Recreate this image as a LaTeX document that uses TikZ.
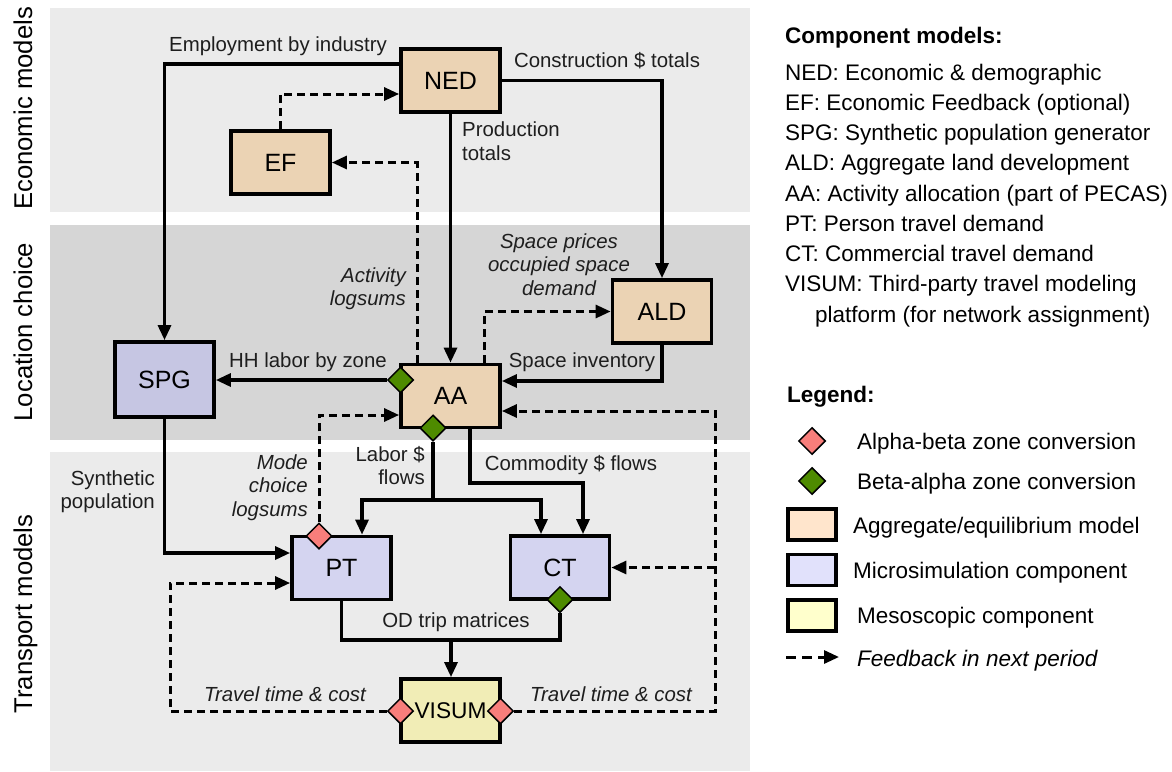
\documentclass[tikz,border=0pt]{standalone}
\usepackage{fontspec}
\setmainfont{Liberation Sans}
\usetikzlibrary{arrows.meta,shapes.geometric,calc}
\definecolor{bandA}{HTML}{EBEBEB}
\definecolor{bandB}{HTML}{D6D6D6}
\definecolor{aggcol}{HTML}{EBD3B4}
\definecolor{spgcol}{HTML}{C6C6E3}
\definecolor{microcol}{HTML}{D4D4F0}
\definecolor{mesocol}{HTML}{F1EDB6}
\definecolor{lgagg}{HTML}{FFE5CC}
\definecolor{lgmic}{HTML}{E1E1FB}
\definecolor{lgmes}{HTML}{FFFFCC}
\definecolor{dred}{HTML}{F87E7B}
\definecolor{dgreen}{HTML}{4E8B00}
\definecolor{txt}{HTML}{1E1E1E}
\begin{document}
\begin{tikzpicture}[x=1pt,y=-1pt,
  side/.style={rotate=90,anchor=base,font=\fontsize{25.7}{28}\selectfont,inner sep=0pt},
  box/.style={draw,line width=3.8pt,minimum width=99pt,minimum height=63pt,inner sep=0pt,font=\fontsize{25}{28}\selectfont},
  diam/.style={diamond,draw,line width=1.5pt,minimum width=26pt,minimum height=26pt,inner sep=0pt},
  conn/.style={line width=3.2pt,-{Triangle[length=15pt,width=13pt]}},
  plain/.style={line width=3.2pt},
  fb/.style={conn,line width=3pt,dash pattern=on 8pt off 5pt},
  lab/.style={inner sep=0pt,text=txt,font=\fontsize{20.4}{23.5}\selectfont},
  ilab/.style={inner sep=0pt,text=txt,font=\fontsize{20.4}{23.5}\selectfont\itshape},
  lg/.style={anchor=base west,inner sep=0pt,font=\fontsize{22.5}{26}\selectfont},
  lgh/.style={anchor=base west,inner sep=0pt,font=\fontsize{22.5}{26}\selectfont\bfseries},
  lgbox/.style={draw,line width=3.6pt,minimum width=48pt,minimum height=31pt,inner sep=0pt}
]
\useasboundingbox (0,0) rectangle (1172,771);
% bands
\fill[bandA] (50,8) rectangle (750,212);
\fill[bandB] (50,225) rectangle (750,440);
\fill[bandA] (50,452) rectangle (750,771);
\node[side] (sEco) at (32,108.5) {Economic models};
\node[side] (sLoc) at (32,332) {Location choice};
\node[side] (sTra) at (32,614) {Transport models};

% boxes
\node[box,fill=aggcol] (NED) at (450.5,80.5) {NED};
\node[box,fill=aggcol] (EF) at (280.5,162.5) {EF};
\node[box,fill=aggcol] (ALD) at (662,311.5) {ALD};
\node[box,fill=aggcol] (AA) at (450.5,396) {AA};
\node[box,fill=spgcol,minimum height=75pt] (SPG) at (164.5,379.5) {SPG};
\node[box,fill=microcol] (PT) at (341.5,568) {PT};
\node[box,fill=microcol] (CT) at (560,567.5) {CT};
\node[box,fill=mesocol,font=\fontsize{22.7}{26}\selectfont] (VISUM) at (450.5,710.5) {VISUM};

% diamonds
\node[diam,fill=dgreen] (gAAl) at (400.5,380) {};
\node[diam,fill=dgreen] (gAAb) at (433,428) {};
\node[diam,fill=dred] (rPT) at (319,536) {};
\node[diam,fill=dgreen] (gCT) at (560,599.5) {};
\node[diam,fill=dred] (rVl) at (400.5,711) {};
\node[diam,fill=dred] (rVr) at (500.5,711) {};

% helper coordinates
\coordinate (split) at (433,500);
\coordinate (cm) at (583,483);
\coordinate (od) at (451,640);
\coordinate (fbL) at (170,583);
\coordinate (fbR) at (715,411);
\coordinate (fbC) at (715,567.5);

% connectors
\draw[conn] ([yshift=16.5pt]NED.west) -| (SPG.north);
\draw[fb] (EF.north) |- ([yshift=-13.5pt]NED.west);
\draw[fb] ([xshift=-33.5pt]AA.north) |- (EF.east);
\draw[conn] (NED.south) -- (AA.north);
\draw[conn] (NED.east) -| (ALD.north);
\draw[fb] ([xshift=33.5pt]AA.north) |- (ALD.west);
\draw[conn] (ALD.south) |- ([yshift=15pt]AA.east);
\draw[conn] (gAAl.west) -- (gAAl.west -| SPG.east);
\draw[fb] (rPT.north) |- ([yshift=-19pt]AA.west);
\draw[plain] (gAAb.south) -- (split);
\draw[conn] (split) -| ([xshift=20.5pt]PT.north);
\draw[conn] (split) -| ([xshift=-19pt]CT.north);
\draw[conn] ([xshift=19.5pt]AA.south) |- (cm) -- ([xshift=23pt]CT.north);
\draw[conn] (SPG.south) |- ([yshift=15pt]PT.west);
\draw[plain] (PT.south) |- (od) -| (gCT.south);
\draw[conn] (od) -- (od |- VISUM.north);
\draw[fb] (rVl.west) -| (fbL) -- ([yshift=-15pt]PT.west);
\draw[fb] (rVr.east) -| (fbR) -- ([yshift=-15pt]AA.east);
\draw[fb] (fbC) -- (CT.east);

% edge labels
\node[lab] (lEmp) at (278,46) {Employment by industry};
\node[lab] (lCon) at (607,61) {Construction \$ totals};
\node[lab,align=left,anchor=north west] (lProd) at (462,122) {Production\\totals};
\node[ilab,align=right,anchor=east] (lAct) at (406,288.5) {Activity\\logsums};
\node[ilab,align=center] (lSpace) at (559,264.5) {Space prices\\occupied space\\demand};
\node[lab] (lInv) at (582,362) {Space inventory};
\node[lab] (lHH) at (308,362) {HH labor by zone};
\node[lab,align=right,anchor=east] (lLab) at (425,465.5) {Labor \$\\flows};
\node[lab] (lCom) at (571,465) {Commodity \$ flows};
\node[lab,align=right,anchor=east] (lSyn) at (155,491.5) {Synthetic\\population};
\node[ilab,align=right,anchor=east] (lMode) at (308,487.5) {Mode\\choice\\logsums};
\node[lab] (lOD) at (456,622) {OD trip matrices};
\node[ilab] (lTTl) at (285,694) {Travel time \& cost};
\node[ilab] (lTTr) at (611,694) {Travel time \& cost};

% component models
\node[lgh] (cmh) at (785,43) {Component models:};
\node[lg] (c1) at (785,80) {NED: Economic \& demographic};
\node[lg] (c2) at (785,110.25) {EF: Economic Feedback (optional)};
\node[lg] (c3) at (785,140.5) {SPG: Synthetic population generator};
\node[lg] (c4) at (785,170.75) {ALD: Aggregate land development};
\node[lg] (c5) at (785,201) {AA: Activity allocation (part of PECAS)};
\node[lg] (c6) at (785,231.25) {PT: Person travel demand};
\node[lg] (c7) at (785,261.5) {CT: Commercial travel demand};
\node[lg] (c8) at (785,291.75) {VISUM: Third-party travel modeling};
\node[lg] (c9) at (815,322) {platform (for network assignment)};

% legend
\node[lgh] (lgH) at (787,402) {Legend:};
\node[diam,fill=dred,minimum width=27pt,minimum height=27pt] (lgR) at (812,441) {};
\node[lg] (lgRt) at (857,449) {Alpha-beta zone conversion};
\node[diam,fill=dgreen,minimum width=27pt,minimum height=27pt] (lgG) at (812,481) {};
\node[lg] (lgGt) at (857,489) {Beta-alpha zone conversion};
\node[lgbox,fill=lgagg] (lgA) at (812,524.5) {};
\node[lg] (lgAt) at (853,533) {Aggregate/equilibrium model};
\node[lgbox,fill=lgmic] (lgM) at (812,570) {};
\node[lg] (lgMt) at (853,578) {Microsimulation component};
\node[lgbox,fill=lgmes] (lgS) at (812,615.5) {};
\node[lg] (lgSt) at (857,623) {Mesoscopic component};
\coordinate (lgF1) at (786,657);
\coordinate (lgF2) at (839,657);
\draw[line width=3pt,dash pattern=on 10pt off 6pt,-{Triangle[length=15pt,width=13pt]}] (lgF1) -- (lgF2);
\node[lg,font=\fontsize{22.5}{26}\selectfont\itshape] (lgFt) at (857,666) {Feedback in next period};
\end{tikzpicture}
\end{document}
